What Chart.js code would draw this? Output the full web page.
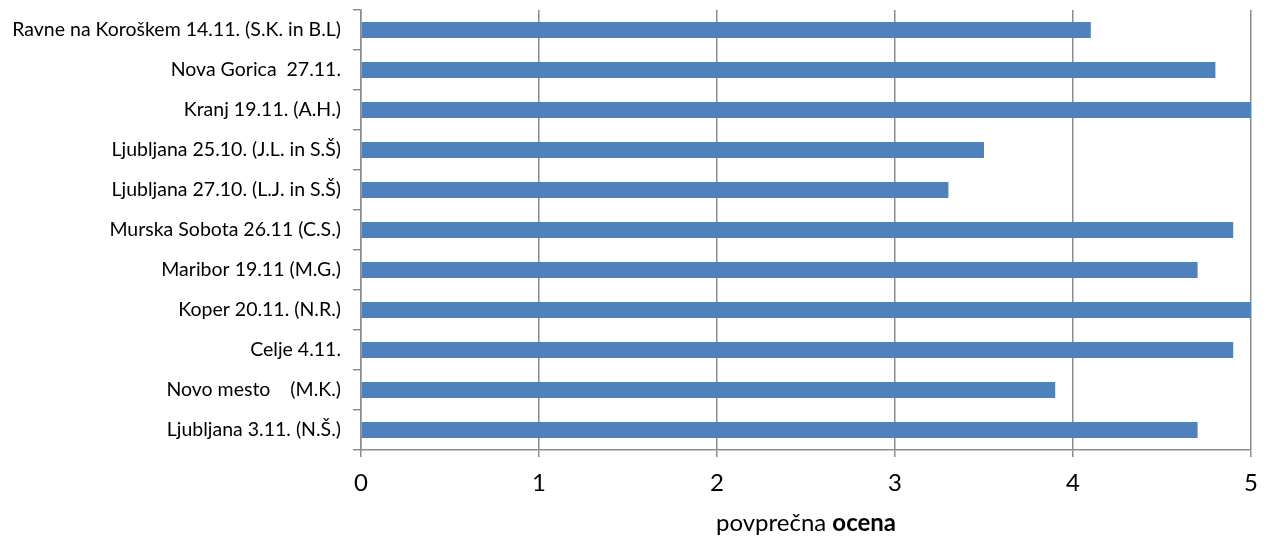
<!DOCTYPE html>
<html>
<head>
<meta charset="utf-8">
<script src="https://cdn.jsdelivr.net/npm/chart.js@4.4.1/dist/chart.umd.min.js"></script>
<style>
  html, body { margin: 0; padding: 0; background: #fff; }
  #wrap { width: 1271px; height: 539px; }
</style>
</head>
<body>
<div id="wrap"><canvas id="chart" width="1271" height="539"></canvas></div>
<script>
// Data
const categories = [
    'Ravne na Koroškem 14.11. (S.K. in B.L)',
    'Nova Gorica  27.11.',
    'Kranj 19.11. (A.H.)',
    'Ljubljana 25.10. (J.L. in S.Š)',
    'Ljubljana 27.10. (L.J. in S.Š)',
    'Murska Sobota 26.11 (C.S.)',
    'Maribor 19.11 (M.G.)',
    'Koper 20.11. (N.R.)',
    'Celje 4.11.',
    'Novo mesto    (M.K.)',
    'Ljubljana 3.11. (N.Š.)'
];
const scores = [4.1, 4.8, 5.0, 3.5, 3.3, 4.9, 4.7, 5.0, 4.9, 3.9, 4.7];
const xTicks = [0, 1, 2, 3, 4, 5];
const titlePlain = 'povprečna ';
const titleBold = 'ocena';

const FONT = 'Lato, Carlito, Calibri, sans-serif';
const GRID = '#8c8c8c';

// Axis title with a bold second word
const axisTitle = {
    id: 'axisTitle',
    afterDraw(chart) {
        const { ctx, chartArea } = chart;
        ctx.save();
        ctx.fillStyle = '#000';
        ctx.textBaseline = 'middle';
        ctx.font = '24px ' + FONT;
        const w1 = ctx.measureText(titlePlain).width;
        ctx.font = 'bold 24px ' + FONT;
        const w2 = ctx.measureText(titleBold).width;
        const x0 = (chartArea.left + chartArea.right) / 2 - (w1 + w2) / 2;
        const y = 523;
        ctx.font = '24px ' + FONT;
        ctx.fillText(titlePlain, x0, y);
        ctx.font = 'bold 24px ' + FONT;
        ctx.fillText(titleBold, x0 + w1, y);
        ctx.restore();
    }
};

new Chart(document.getElementById('chart'), {
    type: 'bar',
    data: {
        labels: categories,
        datasets: [{
            data: scores,
            backgroundColor: '#4f81bd',
            borderWidth: 0,
            barPercentage: 0.4,
            categoryPercentage: 1
        }]
    },
    options: {
        indexAxis: 'y',
        responsive: false,
        animation: false,
        layout: { padding: { top: 10, right: 20, left: 0, bottom: 0 } },
        plugins: {
            legend: { display: false },
            tooltip: { enabled: false }
        },
        scales: {
            x: {
                min: 0,
                max: 5,
                afterBuildTicks: (axis) => { axis.ticks = xTicks.map(v => ({ value: v })); },
                afterFit: (axis) => { axis.height = 89; },
                grid: { color: GRID, lineWidth: 1.5, tickLength: 7 },
                border: { color: GRID, width: 1.5 },
                ticks: { color: '#000', font: { family: FONT, size: 24 }, padding: 12 }
            },
            y: {
                afterFit: (axis) => {
                    axis.width = 361;
                    axis.paddingTop = 0;
                    axis.paddingBottom = 0;
                },
                grid: { offset: true, drawOnChartArea: false, color: GRID, lineWidth: 1.5, tickLength: 8 },
                border: { color: GRID, width: 1.5 },
                ticks: { color: '#000', font: { family: FONT, size: 19.5 }, padding: 12 }
            }
        }
    },
    plugins: [axisTitle]
});
</script>
</body>
</html>
